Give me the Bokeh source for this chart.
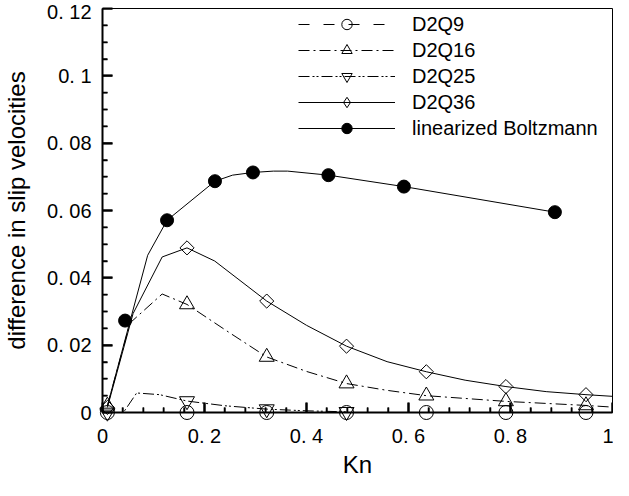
import math
import numpy as np
from bokeh.plotting import figure
from bokeh.models import Range1d, FixedTicker, Legend, LegendItem
from bokeh.embed import file_html
from bokeh.resources import INLINE

# ---------------- data ----------------
kn_marks = [0.0096, 0.1657, 0.322, 0.4785, 0.635, 0.791, 0.948]
d2q9_y = [0.0, 0.0, 0.0, 0.0, 0.0, 0.0, 0.0]
d2q16_y = [0.0020, 0.0321, 0.0165, 0.0086, 0.0050, 0.0033, 0.0021]
d2q36_y = [0.0015, 0.0489, 0.0331, 0.0197, 0.0121, 0.0077, 0.0053]
d2q25_kn = [0.0096, 0.1657, 0.322, 0.4785]
d2q25_y = [0.0, 0.0034, 0.0010, 0.0002]
lb_kn = [0.0443, 0.1266, 0.2205, 0.295, 0.443, 0.591, 0.887]
lb_y = [0.0273, 0.0571, 0.0687, 0.0713, 0.0705, 0.0671, 0.0595]

# curves (drawn lines)
d2q9_line_kn = [0.0096, 1.0]
d2q9_line_y = [0.0, 0.0]
d2q16_line_kn = [0.0096, 0.054, 0.117, 0.1657, 0.249, 0.322, 0.40, 0.4785, 0.557, 0.635, 0.791, 0.948, 1.0]
d2q16_line_y = [0.0020, 0.0266, 0.0352, 0.0321, 0.0237, 0.0165, 0.0122, 0.0086, 0.0066, 0.0050, 0.0033, 0.0021, 0.0016]
d2q25_line_kn = [0.0096, 0.041, 0.067, 0.112, 0.1657, 0.24, 0.322, 0.40, 0.4785]
d2q25_line_y = [0.0, 0.0, 0.0058, 0.0053, 0.0034, 0.0020, 0.0010, 0.0005, 0.0002]
d2q36_line_kn = [0.0096, 0.06, 0.117, 0.1657, 0.22, 0.322, 0.40, 0.4785, 0.558, 0.635, 0.711, 0.791, 0.87, 0.948, 1.0]
d2q36_line_y = [0.0015, 0.0294, 0.0462, 0.0489, 0.0450, 0.0331, 0.0259, 0.0197, 0.0151, 0.0121, 0.0096, 0.0077, 0.0062, 0.0053, 0.0048]
lb_line_kn = [0.0096, 0.0886, 0.1266, 0.2205, 0.255, 0.295, 0.335, 0.363, 0.443, 0.591, 0.887]
lb_line_y = [0.0020, 0.0467, 0.0571, 0.0687, 0.0705, 0.0713, 0.0717, 0.0717, 0.0705, 0.0671, 0.0595]

series_names = ["D2Q9", "D2Q16", "D2Q25", "D2Q36", "linearized Boltzmann"]

x_ticks = [0.0, 0.2, 0.4, 0.6, 0.8, 1.0]
x_tick_labels = ["0", "0. 2", "0. 4", "0. 6", "0. 8", "1"]
y_ticks = [0.0, 0.02, 0.04, 0.06, 0.08, 0.1, 0.12]
y_tick_labels = ["0", "0. 02", "0. 04", "0. 06", "0. 08", "0. 1", "0. 12"]
x_minor_step = 0.04
y_minor_step = 0.005
x_title = "Kn"
y_title = "difference in slip velocities"

# ---------------- figure ----------------
FONT = "Liberation Sans"
W, H = 613, 480
BL, BR, BT, BB = 97, 1, 8, 62
X0, X1, Y0, Y1 = 0.0, 1.0, 0.0, 0.12
p = figure(width=W, height=H, output_backend="svg", toolbar_location=None,
           x_range=Range1d(X0, X1), y_range=Range1d(Y0, Y1),
           min_border_left=BL, min_border_right=BR, min_border_top=BT, min_border_bottom=BB)
p.outline_line_color = "black"
p.outline_line_width = 1
p.xgrid.visible = False
p.ygrid.visible = False

x_minor = [float(v) for v in np.round(np.arange(0, 1.0001, x_minor_step), 4) if round(v / 0.2, 6) % 1 != 0]
y_minor = [float(v) for v in np.round(np.arange(0, 0.12001, y_minor_step), 4) if round(v / 0.02, 6) % 1 != 0]

p.xaxis.ticker = FixedTicker(ticks=x_ticks, minor_ticks=x_minor)
p.yaxis.ticker = FixedTicker(ticks=y_ticks, minor_ticks=y_minor)
p.xaxis.major_label_overrides = dict(zip(x_ticks, x_tick_labels))
p.yaxis.major_label_overrides = dict(zip(y_ticks, y_tick_labels))

for ax in (p.xaxis[0], p.yaxis[0]):
    ax.axis_line_width = 2
    ax.axis_line_color = "black"
    ax.major_tick_in = 10
    ax.major_tick_out = 0
    ax.minor_tick_in = 5
    ax.minor_tick_out = 0
    ax.major_tick_line_width = 2
    ax.minor_tick_line_width = 1.5
    ax.major_tick_line_color = "black"
    ax.minor_tick_line_color = "black"
    ax.major_label_text_font = FONT
    ax.major_label_text_font_size = "20px"
    ax.major_label_text_color = "black"
    ax.axis_label_text_font = FONT
    ax.axis_label_text_font_size = "24px"
    ax.axis_label_text_font_style = "normal"
    ax.axis_label_text_color = "black"

p.xaxis.axis_label = x_title
p.yaxis.axis_label = y_title
p.xaxis.major_label_standoff = 12
p.xaxis.axis_label_standoff = 1
p.yaxis.major_label_standoff = 11
p.yaxis.axis_label_standoff = 14

# inward tick marks, also drawn as data-space segments
frame_w = W - BL - BR
frame_h = H - BT - BB
ux = (X1 - X0) / frame_w
uy = (Y1 - Y0) / frame_h
p.segment(x0=x_ticks, y0=[Y0] * len(x_ticks), x1=x_ticks, y1=[Y0 + 10 * uy] * len(x_ticks),
          line_color="black", line_width=2)
p.segment(x0=x_minor, y0=[Y0] * len(x_minor), x1=x_minor, y1=[Y0 + 5 * uy] * len(x_minor),
          line_color="black", line_width=1.5)
p.segment(x0=[X0] * len(y_ticks), y0=y_ticks, x1=[X0 + 10 * ux] * len(y_ticks), y1=y_ticks,
          line_color="black", line_width=2)
p.segment(x0=[X0] * len(y_minor), y0=y_minor, x1=[X0 + 5 * ux] * len(y_minor), y1=y_minor,
          line_color="black", line_width=1.5)

# ---------------- lines ----------------
l9 = p.line(d2q9_line_kn, d2q9_line_y, line_color="black", line_width=1, line_dash="11 14")
l16 = p.line(d2q16_line_kn, d2q16_line_y, line_color="black", line_width=1, line_dash="11 4 2 4")
l25 = p.line(d2q25_line_kn, d2q25_line_y, line_color="black", line_width=1, line_dash="11 3 2 2 2 3")
l36 = p.line(d2q36_line_kn, d2q36_line_y, line_color="black", line_width=1)
llb = p.line(lb_line_kn, lb_line_y, line_color="black", line_width=1)

# ---------------- markers (annotation level: not clipped at the axes) ----------------
LV = "annotation"
m9 = p.scatter(kn_marks, d2q9_y, marker="circle", size=14, fill_color=None,
               line_color="black", line_width=1, level=LV)
m16 = p.scatter(kn_marks, d2q16_y, marker="triangle", size=15, fill_color=None,
                line_color="black", line_width=1, level=LV)
m25 = p.scatter(d2q25_kn, d2q25_y, marker="inverted_triangle", size=15, fill_color=None,
                line_color="black", line_width=1, level=LV)
m36 = p.scatter(kn_marks, d2q36_y, marker="square", angle=math.pi / 4, size=10, fill_color=None,
                line_color="black", line_width=1, level=LV)
mlb = p.scatter(lb_kn, lb_y, marker="circle", size=13, fill_color="black",
                line_color="black", line_width=1, level=LV)
m36_key = p.scatter([float("nan")], [float("nan")], marker="diamond", size=14, fill_color=None,
                    line_color="black", line_width=1)

# ---------------- legend (single legend) ----------------
frame_bottom_page = 8 + H - BB
ROW = 26
legend_top_page = 38 - ROW / 2
legend = Legend(items=[LegendItem(label=n, renderers=rs) for n, rs in
                       zip(series_names, [[l9, m9], [l16, m16], [l25, m25], [l36, m36_key], [llb, mlb]])],
                location=(196, frame_bottom_page - legend_top_page - 5 * ROW),
                glyph_width=97, glyph_height=ROW, label_height=ROW, label_standoff=17,
                padding=0, margin=0, spacing=0,
                border_line_alpha=0, background_fill_alpha=0,
                label_text_font=FONT, label_text_font_size="20px", label_text_color="black")
p.add_layout(legend)

open("out.html", "w").write(file_html(p, INLINE))
